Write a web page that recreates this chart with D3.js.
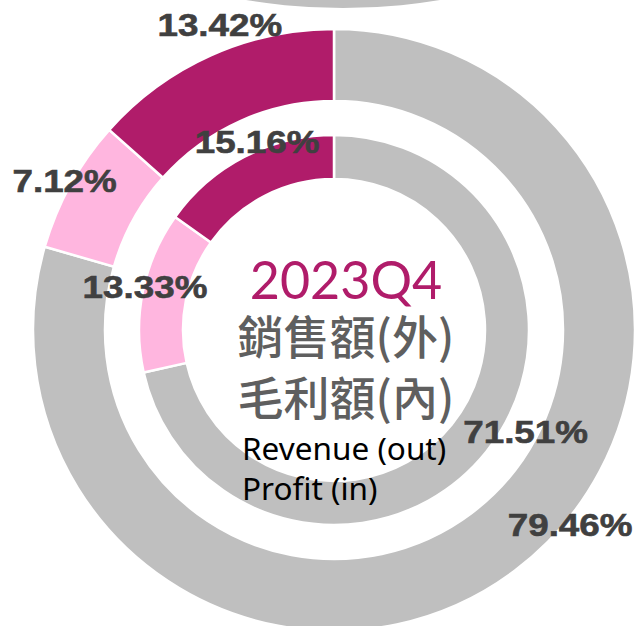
<!DOCTYPE html>
<html>
<head>
<meta charset="utf-8">
<script src="https://cdn.jsdelivr.net/npm/d3@7"></script>
<style>
  html, body { margin: 0; padding: 0; background: #fff; overflow: hidden; }
</style>
</head>
<body>
<div id="chart"></div>
<script>
// data
const categories = ["Other", "Segment B", "Segment A"];
const revenueShare = [79.46, 7.12, 13.42]; // outer ring
const profitShare = [71.51, 13.33, 15.16]; // inner ring
const period = "2023Q4";
const titleLines = ["銷售額(外)", "毛利額(內)"];
const noteLines = ["Revenue (out)", "Profit (in)"];

// layout
const width = 638, height = 626;
const cx = 334, cy = 330;
const colors = { "Other": "#bfbfbf", "Segment B": "#ffb6df", "Segment A": "#b01c6a" };
const rings = [
  { values: revenueShare, inner: 229, outer: 301,
    // label placement [angle in degrees, radius]
    labelPos: [[129.5, 306], [299, 308], [339.5, 326]] },
  { values: profitShare, inner: 151, outer: 195,
    labelPos: [[118, 217], [283, 194], [337.8, 203.6]] }
];

const svg = d3.select("#chart")
  .append("svg")
  .attr("width", width)
  .attr("height", height)
  .style("display", "block");

// piece of the neighbouring chart peeking in at the top
svg.append("circle")
  .attr("cx", 343)
  .attr("cy", -584)
  .attr("r", 592)
  .attr("fill", "#bfbfbf");

const g = svg.append("g").attr("transform", `translate(${cx},${cy})`);

const pie = d3.pie().sort(null).value((d) => d.value);

rings.forEach((ring) => {
  const arcs = pie(categories.map((c, i) => ({ key: c, value: ring.values[i] })));
  const arc = d3.arc().innerRadius(ring.inner).outerRadius(ring.outer);

  g.append("g")
    .selectAll("path")
    .data(arcs)
    .enter()
    .append("path")
    .attr("d", arc)
    .attr("fill", (d) => colors[d.data.key])
    .attr("stroke", "#fff")
    .attr("stroke-width", 2.5);

  // labels
  g.append("g")
    .selectAll("g")
    .data(arcs)
    .enter()
    .append("g")
    .attr("transform", (d, i) => {
      const a = (ring.labelPos[i][0] * Math.PI) / 180;
      const r = ring.labelPos[i][1];
      return `translate(${r * Math.sin(a)},${-r * Math.cos(a)}) scale(1.15,1)`;
    })
    .append("text")
    .attr("text-anchor", "middle")
    .attr("dy", "0.36em")
    .style("font-family", "'Liberation Sans', Arial, sans-serif")
    .style("font-weight", "bold")
    .style("font-size", "32px")
    .style("fill", "#404040")
    .style("stroke", "#404040")
    .style("stroke-width", 0.6)
    .text((d) => d.data.value.toFixed(2) + "%");
});

// centre text
svg.append("text")
  .attr("x", 346)
  .attr("y", 299)
  .attr("text-anchor", "middle")
  .style("font-family", "Lato, sans-serif")
  .style("font-size", "52px")
  .style("fill", "#b01c6a")
  .text(period);

titleLines.forEach((t, i) => {
  svg.append("text")
    .attr("x", 346)
    .attr("y", 354 + i * 61)
    .attr("text-anchor", "middle")
    .style("font-family", "'Noto Sans CJK TC', sans-serif")
    .style("font-weight", 500)
    .style("font-size", "46px")
    .style("fill", "#5f5f5f")
    .text(t);
});

noteLines.forEach((t, i) => {
  svg.append("text")
    .attr("x", 242)
    .attr("y", 460 + i * 40)
    .style("font-family", "'Noto Sans', sans-serif")
    .style("font-size", "31.5px")
    .style("fill", "#000")
    .text(t);
});
</script>
</body>
</html>
